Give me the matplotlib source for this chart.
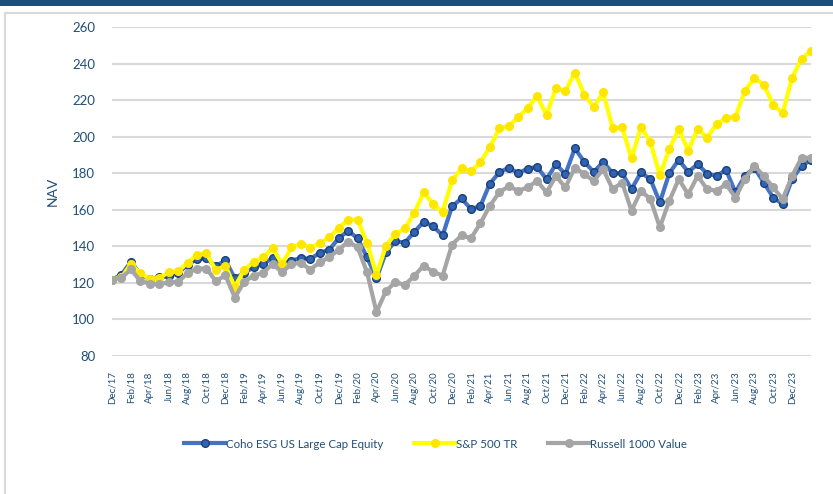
import numpy as np
import pandas as pd
import matplotlib
matplotlib.use('agg')
from matplotlib import pyplot as plt
from matplotlib.patches import Rectangle

plt.rcParams['font.family'] = ['Lato', 'DejaVu Sans']

# monthly NAV, Dec/17 .. Feb/24
months = pd.date_range('2017-12-01', '2024-02-01', freq='MS')
month_labels = [d.strftime('%b/%y') for d in months]

coho = [121.8, 124.5, 131.5, 124.8, 122.0, 123.0, 123.7, 125.3, 130.0, 133.0,
        133.5, 129.0, 132.4, 122.5, 125.5, 128.5, 130.4, 133.5, 130.4, 132.2,
        133.6, 133.1, 136.4, 138.2, 144.4, 148.5, 144.4, 134.0, 122.5, 136.7,
        142.8, 142.0, 147.8, 153.5, 150.9, 146.0, 161.8, 166.2, 160.4, 162.0,
        174.3, 180.4, 183.1, 180.0, 182.5, 183.5, 176.7, 184.9, 179.5, 193.6,
        186.2, 180.7, 186.2, 180.0, 180.0, 171.3, 180.4, 176.7, 164.0, 180.0,
        187.3, 180.7, 184.9, 179.8, 178.5, 181.8, 169.5, 178.5, 183.1, 174.9,
        166.7, 163.1, 176.7, 184.0, 187.3]
sp500 = [121.8, 123.1, 130.2, 125.4, 122.2, 122.7, 125.7, 126.4, 131.0, 135.4,
         136.2, 126.9, 129.5, 117.8, 127.3, 131.4, 133.9, 139.2, 130.3, 139.4,
         141.4, 139.1, 141.8, 144.9, 150.1, 154.6, 154.6, 141.9, 124.3, 140.2,
         146.9, 149.8, 158.2, 169.6, 163.2, 158.8, 176.1, 182.8, 181.0, 186.0,
         194.2, 204.5, 205.9, 210.6, 215.7, 222.2, 211.7, 226.5, 225.0, 235.1,
         222.9, 216.2, 224.2, 204.7, 205.1, 188.1, 205.4, 197.0, 178.8, 193.3,
         204.1, 192.3, 204.4, 199.5, 206.9, 210.2, 211.0, 224.9, 232.1, 228.4,
         217.4, 212.9, 232.3, 242.7, 246.8]
russell = [121.8, 122.8, 127.4, 121.0, 119.6, 119.2, 120.3, 120.5, 125.4, 127.8,
           127.8, 120.9, 124.2, 112.0, 120.6, 124.0, 125.5, 130.4, 125.8, 130.4,
           130.9, 127.3, 131.3, 134.0, 138.2, 142.5, 139.5, 125.8, 104.0, 115.5,
           120.4, 118.9, 123.8, 129.5, 126.0, 124.0, 141.0, 146.0, 144.4, 152.6,
           162.2, 169.5, 172.9, 170.4, 172.2, 175.8, 169.5, 178.5, 172.2, 183.1,
           179.5, 175.8, 182.2, 171.3, 174.9, 159.5, 170.4, 165.8, 150.4, 164.9,
           176.7, 168.5, 178.5, 171.3, 170.4, 174.0, 166.7, 176.7, 184.0, 178.5,
           172.2, 165.8, 178.5, 188.5, 188.5]

text_blue = '#1f4e79'
x = np.arange(len(months))

fig = plt.figure(figsize=(8.33, 4.94), dpi=100)
W, H = 833.0, 494.0

# dark band at the top and light frame
fig.patches.append(Rectangle((0, 1 - 6 / H), 1, 6 / H, transform=fig.transFigure,
                             facecolor='#1f4e79', edgecolor='none', zorder=0))
fig.patches.append(Rectangle((5 / W, -0.05), 1.2, 1.05 - 13 / H, transform=fig.transFigure,
                             facecolor='none', edgecolor='#d9d9d9', lw=1.5, zorder=0))

ax = fig.add_axes([112 / W, 1 - 356 / H, (811 - 112) / W, (356 - 27) / H])

ax.plot(x, coho, color='#4472c4', lw=3, marker='o', ms=5.5,
        mfc='#2f63b3', mec='#1c3f73', mew=1, label='Coho ESG US Large Cap Equity')
ax.plot(x, sp500, color='#ffff00', lw=3, marker='o', ms=5.5,
        mfc='#ffe600', mec='#ffe600', mew=1, label='S&P 500 TR')
ax.plot(x, russell, color='#a5a5a5', lw=3, marker='o', ms=5.5,
        mfc='#a5a5a5', mec='#a5a5a5', mew=1, label='Russell 1000 Value')

ax.set_xlim(0, len(months) - 1)
ax.set_ylim(80, 260)
ax.set_yticks(np.arange(80, 261, 20))
ax.grid(axis='y', color='#d9d9d9', lw=1.5)
ax.set_axisbelow(True)
for s in ax.spines.values():
    s.set_visible(False)

tick_idx = x[:73:2]
ax.set_xticks(tick_idx)
ax.set_xticklabels([month_labels[i] for i in tick_idx], rotation=90,
                   fontsize=7, color=text_blue)
ax.tick_params(axis='x', length=0, pad=11)
ax.tick_params(axis='y', length=0, pad=12, labelsize=9.5, labelcolor=text_blue)
ax.set_ylabel('NAV', color=text_blue, fontsize=10, labelpad=10)

ax.legend(loc='center', bbox_to_anchor=(0.523, 1 - 444 / H), bbox_transform=fig.transFigure,
          ncol=3, frameon=False, fontsize=8.3, handlelength=3.5, handletextpad=0.1,
          columnspacing=2.7, labelcolor=text_blue)

plt.savefig('out.png', dpi=100)
